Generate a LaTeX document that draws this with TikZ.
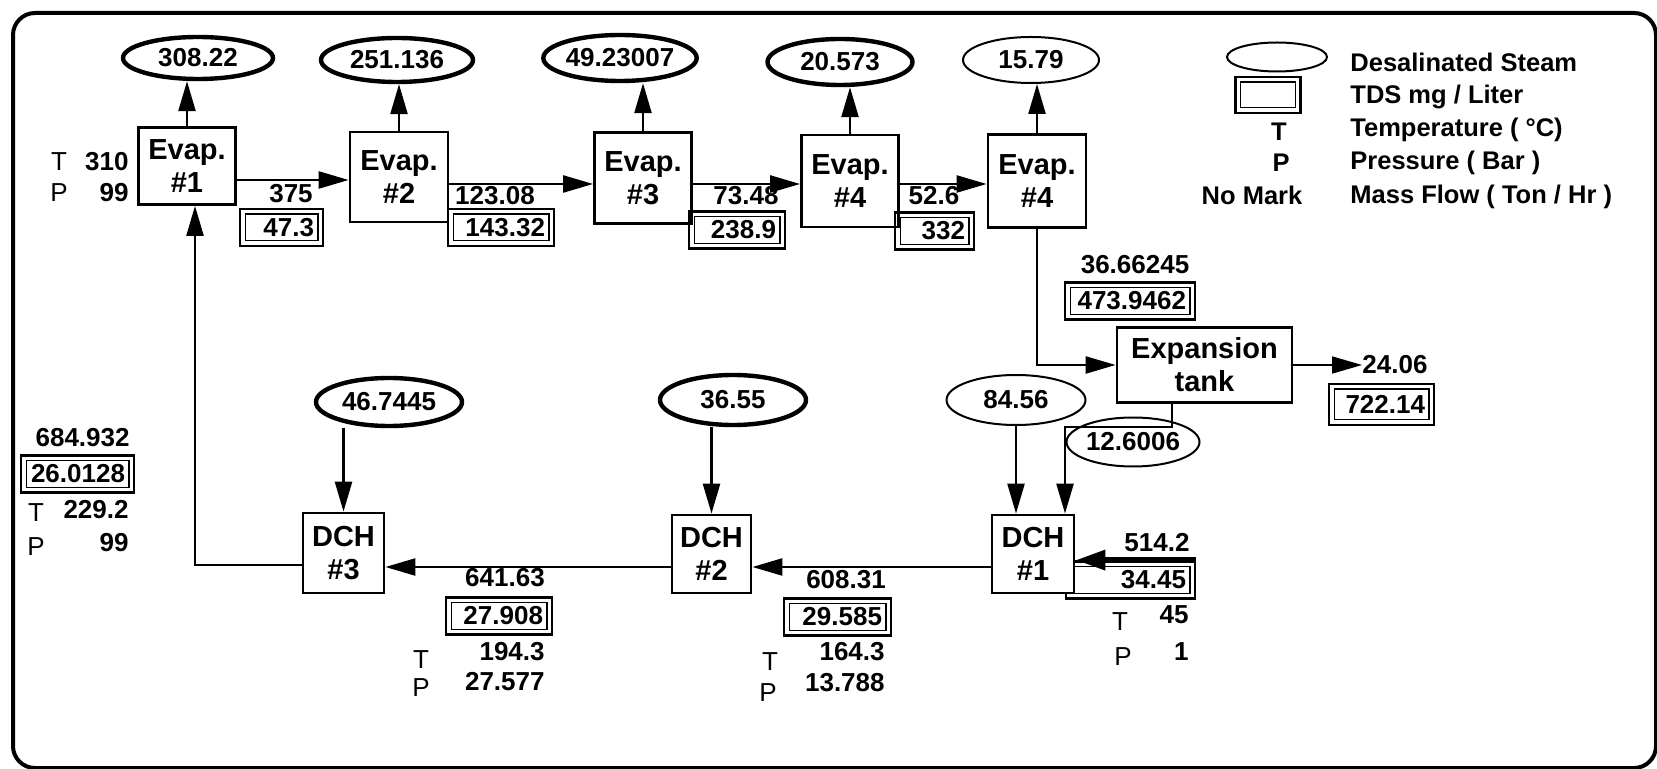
\documentclass[tikz,border=0pt]{standalone}
\usepackage{fontspec}
\setmainfont{Liberation Sans}
\usetikzlibrary{arrows.meta,positioning,shapes.geometric}

\newcommand{\numfont}{\fontsize{13}{15}\selectfont\bfseries}
\newcommand{\boxfont}{\fontsize{14.5}{16.5}\selectfont\bfseries}
\newcommand{\keyfont}{\fontsize{12.75}{15}\selectfont\bfseries}

\begin{document}
\begin{tikzpicture}[
  x=0.5pt, y=-0.5pt,
  unit/.style={draw, fill=white, line width=1.4pt, align=center,
               font=\boxfont, inner sep=0pt},
  steam/.style={draw, ellipse, line width=2.2pt, inner sep=0pt, font=\numfont},
  thinsteam/.style={steam, line width=1pt},
  tds/.style={draw, line width=1.4pt,
              path picture={\draw[line width=0.7pt]
                ([shift={(2.6pt,2.6pt)}]path picture bounding box.south west) rectangle
                ([shift={(-2.6pt,-2.6pt)}]path picture bounding box.north east);},
              inner xsep=4.5pt, inner ysep=0pt, minimum height=18.5pt,
              text width=#1, align=right, font=\numfont},
  num/.style={font=\numfont, inner sep=0pt},
  tp/.style={font=\fontsize{13}{15}\selectfont, inner sep=0pt},
  key/.style={font=\keyfont, inner sep=0pt, anchor=west},
  arrow/.style={-{Triangle[length=15pt, width=8.5pt]}, line width=1.2pt}
]
  \useasboundingbox (0,0) rectangle (1657,769);
  \draw[line width=2pt, rounded corners=11pt] (13,13) rectangle (1656,768);

  % --- evaporators (top row) ---------------------------------------
  \node[unit, minimum width=48.5pt, minimum height=38.5pt] (ev1) at (187,166) {Evap.\\\#1};
  \node[unit, minimum width=49pt,   minimum height=45pt]   (ev2) at (399,177) {Evap.\\\#2};
  \node[unit, minimum width=48.5pt, minimum height=45.5pt] (ev3) at (643,178) {Evap.\\\#3};
  \node[unit, minimum width=48.5pt, minimum height=46pt]   (ev4) at (850,181) {Evap.\\\#4};
  \node[unit, minimum width=49pt,   minimum height=46.5pt] (ev5) at (1037,181) {Evap.\\\#4};

  \node[steam, minimum width=75pt, minimum height=21pt]       (st1) at (198,58)  {308.22};
  \node[steam, minimum width=76pt, minimum height=22pt]       (st2) at (397,60)  {251.136};
  \node[steam, minimum width=74.5pt, minimum height=23pt]     (st3) at (620,58)  {49.23007};
  \node[steam, minimum width=72.5pt, minimum height=23pt]     (st4) at (840,62)  {20.573};
  \node[thinsteam, minimum width=68pt, minimum height=23pt]   (st5) at (1031,60) {15.79};

  \node[tds=32.5pt] (tds1) at (281.5,227.5) {47.3};
  \node[tds=44pt]   (tds2) at (501,227.5)   {143.32};
  \node[tds=39pt]   (tds3) at (737,230)     {238.9};
  \node[tds=30.5pt] (tds4) at (934.5,231)   {332};

  \node[num] (f12) at (291,194) {375};
  \node[num] (f23) at (495,196) {123.08};
  \node[num] (f34) at (746,196) {73.48};
  \node[num] (f45) at (934,196) {52.6};

  \node[tp] (tin) at (59,162) {T};
  \node[num, anchor=east] (tinv) at (129,162) {310};
  \node[tp] (pin) at (59,193) {P};
  \node[num, anchor=east] (pinv) at (129,193) {99};

  \draw[arrow] (ev1.north) -- (ev1.north |- st1.south);
  \draw[arrow] (ev2.north) -- (ev2.north |- st2.south);
  \draw[arrow] (ev3.north) -- (ev3.north |- st3.south);
  \draw[arrow] (ev4.north) -- (ev4.north |- st4.south);
  \draw[arrow] (ev5.north) -- (ev5.north |- st5.south);

  \draw[arrow] (ev1.east |- 0,180) -- (ev2.west |- 0,180);
  \draw[arrow] (ev2.east |- 0,184) -- (ev3.west |- 0,184);
  \draw[arrow] (ev3.east |- 0,184) -- (ev4.west |- 0,184);
  \draw[arrow] (ev4.east |- 0,184) -- (ev5.west |- 0,184);

  % --- legend ------------------------------------------------------
  \node[thinsteam, minimum width=50pt, minimum height=14.5pt] (keyst) at (1277,57) {};
  \node[tds=23.5pt, minimum height=18pt] (keytds) at (1268,95) {};
  \node[num, font=\keyfont] (keyt)  at (1279,132) {T};
  \node[num, font=\keyfont] (keyp)  at (1281,163) {P};
  \node[num, font=\keyfont] (keynm) at (1252,195) {No Mark};
  \node[key] (k1) at (1350,62)  {Desalinated Steam};
  \node[key] (k2) at (1350,97)  {TDS mg / Liter};
  \node[key] (k3) at (1350,130) {Temperature ( °C)};
  \node[key] (k4) at (1350,163) {Pressure ( Bar )};
  \node[key] (k5) at (1350,197) {Mass Flow ( Ton / Hr )};

  % --- expansion tank ----------------------------------------------
  \node[num] (f5t) at (1135,265) {36.66245};
  \node[tds=56pt] (tds5) at (1130,301) {473.9462};
  \node[unit, minimum width=87.5pt, minimum height=37.5pt] (tank) at (1204.5,365) {Expansion\\tank};
  \node[num] (fout) at (1395,365) {24.06};
  \node[tds=43.5pt, minimum height=20.5pt] (tds6) at (1381.5,404.5) {722.14};
  \node[thinsteam, minimum width=66.5pt, minimum height=24.5pt] (st9) at (1133,442) {12.6006};
  \coordinate (kink) at (1065,427);

  \draw[arrow] (ev5.south) |- (tank.west);
  \draw[arrow, line width=0.8pt] (tank.east) -- (fout.west);

  % --- direct contact heaters (bottom row) -------------------------
  \node[tds=55.5pt] (tds8) at (1130.5,580) {34.45};
  \node[unit, minimum width=41pt,   minimum height=39pt] (dch1) at (1033,554)  {DCH\\\#1};
  \node[unit, minimum width=39.5pt, minimum height=39pt] (dch2) at (711.5,554) {DCH\\\#2};
  \node[unit, minimum width=40.5pt, minimum height=40pt] (dch3) at (343.5,553) {DCH\\\#3};

  \node[steam, minimum width=73pt, minimum height=24pt]       (st6) at (389,402)  {46.7445};
  \node[steam, minimum width=73pt, minimum height=25pt]       (st7) at (733,400)  {36.55};
  \node[thinsteam, minimum width=69.5pt, minimum height=25pt] (st8) at (1016,400) {84.56};

  \draw[arrow] ([xshift=-16.25pt]tank.south) |- (kink) -- (kink |- dch1.north);
  \draw[arrow] (st8.south) -- (st8.south |- dch1.north);
  \draw[arrow] (dch2.north |- st7.south) -- (dch2.north);
  \draw[arrow] (dch3.north |- st6.south) -- (dch3.north);

  \draw[-{Triangle[length=15pt, width=9.5pt]}, line width=3.2pt]
    (tds8.north east) -- (tds8.north east -| dch1.east);
  \draw[arrow] ([yshift=-6.5pt]dch1.west) -- ([yshift=-6.5pt]dch2.east);
  \draw[arrow] ([yshift=-6.5pt]dch2.west) -- ([yshift=-6.5pt]dch2.west -| dch3.east);
  \draw[arrow] ([yshift=-6pt]dch3.west) -| ([xshift=4pt]ev1.south);

  % feed to DCH #1
  \node[num] (f01) at (1157,543) {514.2};
  \node[tp] (t01) at (1120,622) {T};
  \node[num, anchor=east] (t01v) at (1189,615) {45};
  \node[tp] (p01) at (1123,657) {P};
  \node[num, anchor=east] (p01v) at (1189,652) {1};

  % DCH #1 -> DCH #2
  \node[num] (f12b) at (846,580) {608.31};
  \node[tds=44.5pt] (tds7) at (837.5,617) {29.585};
  \node[tp] (t12) at (770,662) {T};
  \node[num, anchor=east] (t12v) at (885,652) {164.3};
  \node[tp] (p12) at (768,693) {P};
  \node[num, anchor=east] (p12v) at (885,683) {13.788};

  % DCH #2 -> DCH #3
  \node[num] (f23b) at (505,578) {641.63};
  \node[tds=44pt] (tds9) at (499,616) {27.908};
  \node[tp] (t23) at (421,660) {T};
  \node[num, anchor=east] (t23v) at (545,652) {194.3};
  \node[tp] (p23) at (421,688) {P};
  \node[num, anchor=east] (p23v) at (545,682) {27.577};

  % DCH #3 -> Evap. #1
  \node[num, anchor=east] (f31) at (130,438) {684.932};
  \node[tds=47.5pt] (tds10) at (77.5,474) {26.0128};
  \node[tp] (t31) at (36,513) {T};
  \node[num, anchor=east] (t31v) at (129,510) {229.2};
  \node[tp] (p31) at (36,547) {P};
  \node[num, anchor=east] (p31v) at (129,543) {99};
\end{tikzpicture}
\end{document}
